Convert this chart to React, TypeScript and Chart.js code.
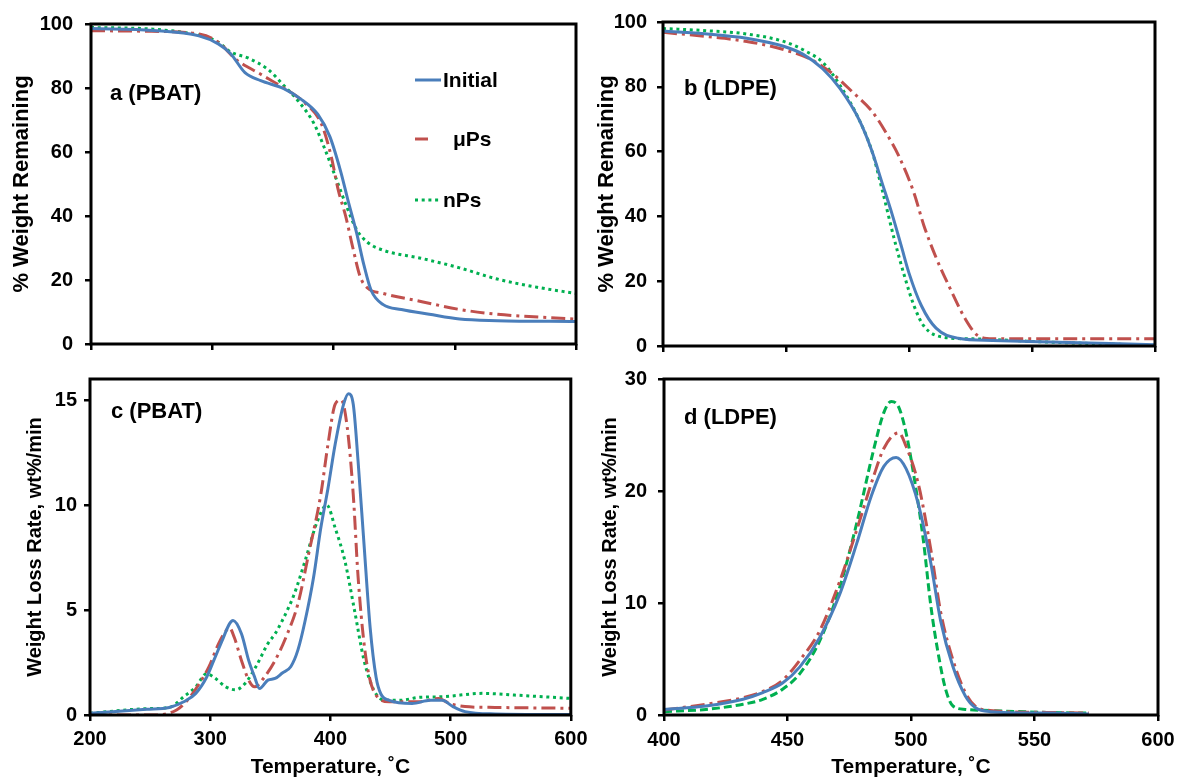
import { useEffect, useRef } from "react";
import { Chart, registerables } from "chart.js";

Chart.register(...registerables);

// ---------- Series names ----------
const seriesNames = ["Initial", "μPs", "nPs"];

// ---------- Panel a: PBAT, % weight remaining ----------
const aInitialT = [200, 251, 289, 305, 315, 327, 340, 359, 374, 387, 397, 406, 412, 419, 425, 431, 441, 456, 479, 504, 535, 600];
const aInitialW = [98.6, 98.0, 96.3, 93.8, 90.8, 84.8, 82.3, 79.8, 76.3, 71.8, 64.8, 53.8, 44.8, 34.8, 24.8, 16.8, 12.3, 10.8, 9.3, 7.8, 7.3, 7.0];
const aMicroT = [200, 250, 290, 305, 320, 340, 360, 375, 390, 398, 404, 410, 416, 422, 428, 441, 472, 504, 535, 600];
const aMicroW = [97.9, 97.7, 96.8, 94.3, 88.8, 84.3, 79.8, 75.8, 68.8, 58.8, 48.0, 40.0, 30.0, 21.0, 17.5, 15.8, 13.3, 10.8, 9.3, 7.8];
const aNanoT = [200, 250, 290, 305, 315, 330, 346, 359, 371, 384, 393, 403, 411, 419, 428, 441, 472, 504, 535, 567, 600];
const aNanoW = [98.9, 98.4, 96.4, 94.3, 91.3, 89.3, 85.8, 80.8, 75.9, 68.8, 60.8, 50.8, 42.8, 35.8, 31.8, 29.3, 26.8, 23.8, 20.3, 17.8, 15.8];

// ---------- Panel b: LDPE, % weight remaining ----------
const bInitialT = [400, 418, 434, 449, 457, 465, 472, 480, 485, 489, 493, 497, 500, 505, 511, 520, 534, 557, 600];
const bInitialW = [97.2, 96.3, 95.0, 92.5, 90.0, 85.5, 79.4, 69.4, 60.0, 50.5, 41.0, 30.5, 22.5, 12.5, 5.5, 2.4, 1.7, 1.2, 0.4];
const bMicroT = [400, 418, 434, 449, 460, 469, 477, 485, 491, 496, 502, 506, 511, 517, 523, 528, 534, 600];
const bMicroW = [96.8, 95.5, 94.0, 91.5, 88.5, 84.0, 78.4, 72.4, 65.4, 58.4, 47.3, 37.3, 27.3, 17.3, 8.2, 3.2, 2.2, 2.2];
const bNanoT = [400, 418, 434, 449, 458, 465, 472, 480, 485, 489, 494, 498, 502, 506, 514, 526, 557, 600];
const bNanoW = [98.0, 97.3, 96.3, 94.0, 91.0, 87.5, 80.4, 69.4, 60.0, 48.5, 33.0, 22.0, 12.5, 6.2, 2.7, 2.2, 1.2, 0.2];

// ---------- Panel c: PBAT, weight loss rate ----------
const cInitialT = [200, 247, 266, 278, 288, 297, 303, 310, 316, 319, 326, 332, 337, 341, 348, 354, 360, 367, 373, 379, 386, 392, 398, 404, 411, 415, 419, 423, 428, 433, 438, 442, 449, 468, 483, 493, 502, 512, 537, 600];
const cInitialR = [0.08, 0.27, 0.36, 0.63, 1.03, 1.8, 2.6, 3.55, 4.34, 4.5, 3.87, 2.6, 1.8, 1.26, 1.66, 1.74, 2.0, 2.3, 3.1, 4.5, 6.56, 8.9, 10.8, 12.9, 14.8, 15.3, 14.8, 12.1, 8.1, 4.2, 1.8, 1.0, 0.7, 0.55, 0.7, 0.7, 0.4, 0.16, 0.05, 0.02];
const cMicroT = [200, 255, 272, 281, 291, 299, 307, 313, 316, 320, 326, 332, 337, 345, 354, 363, 373, 382, 392, 398, 404, 409, 414, 419, 423, 428, 433, 439, 449, 474, 490, 499, 512, 537, 600];
const cMicroR = [0.0, 0.0, 0.24, 0.7, 1.5, 2.3, 3.4, 4.0, 4.15, 3.7, 2.6, 1.66, 1.34, 1.8, 2.6, 3.7, 5.3, 7.7, 10.5, 12.9, 14.8, 15.0, 13.7, 10.5, 6.6, 3.4, 1.66, 0.87, 0.63, 0.63, 0.79, 0.55, 0.4, 0.36, 0.32];
const cNanoT = [200, 247, 266, 278, 288, 297, 303, 313, 321, 329, 338, 348, 354, 360, 370, 379, 389, 397, 404, 412, 420, 428, 436, 445, 458, 474, 493, 527, 553, 600];
const cNanoR = [0.08, 0.3, 0.36, 0.87, 1.34, 1.97, 1.8, 1.34, 1.2, 1.5, 2.3, 3.4, 3.87, 4.5, 5.77, 7.35, 9.2, 10.0, 8.9, 7.35, 5.0, 2.6, 1.2, 0.7, 0.7, 0.84, 0.87, 1.03, 0.95, 0.79];

// ---------- Panel d: LDPE, weight loss rate ----------
const dInitialT = [400, 417, 432, 440, 448, 455, 463, 471, 478, 484, 489, 494, 498, 503, 508, 512, 517, 522, 526, 532, 555, 572];
const dInitialR = [0.5, 0.8, 1.4, 2.0, 2.85, 4.3, 6.9, 10.7, 15.3, 19.6, 22.2, 23.0, 22.0, 18.8, 13.6, 8.4, 4.3, 1.7, 0.67, 0.3, 0.17, 0.1];
const dMicroT = [400, 417, 432, 440, 448, 455, 463, 471, 478, 485, 489, 495, 498, 503, 508, 512, 517, 522, 526, 532, 555, 572];
const dMicroR = [0.45, 0.96, 1.54, 2.1, 3.1, 4.9, 7.5, 11.85, 16.5, 21.4, 23.8, 25.2, 24.0, 20.6, 14.8, 9.2, 4.9, 2.0, 0.8, 0.4, 0.23, 0.17];
const dNanoT = [400, 417, 432, 440, 448, 455, 463, 471, 478, 485, 489, 492, 495, 498, 501.5, 505, 508, 511, 514, 517, 522, 532, 555, 572];
const dNanoR = [0.3, 0.5, 0.96, 1.4, 2.3, 3.7, 6.6, 11.3, 17.1, 23.8, 27.0, 28.0, 27.5, 25.2, 20.9, 15.6, 9.8, 5.5, 2.3, 0.8, 0.5, 0.4, 0.23, 0.17];

// ---------- Tick labels ----------
const pbatXTicks = [200, 300, 400, 500, 600];
const ldpeXTicks = [400, 450, 500, 550, 600];
const weightYTicks = [0, 20, 40, 60, 80, 100];
const rateCYTicks = [0, 5, 10, 15];
const rateDYTicks = [0, 10, 20, 30];

// ---------- Styles ----------
const BLUE = "#4A7EBB";
const RED = "#C0504D";
const GREEN = "#00B050";
const FONT = '"Liberation Sans", Arial, Helvetica, sans-serif';

const pts = (t: number[], v: number[]) => t.map((x, i) => ({ x, y: v[i] }));

function line(label: string, data: any[], color: string, dash: number[], width = 3) {
  return {
    label,
    data,
    borderColor: color,
    backgroundColor: color,
    borderDash: dash,
    borderWidth: width,
    pointRadius: 0,
    fill: false,
    cubicInterpolationMode: "monotone",
  };
}

const DASHDOT = [14, 5, 3, 5];
const DOT = [3, 3.7];
const DASH = [8, 4];

type LegendEntry = { lineDx: number; lineLen: number; dy: number; textDx: number };

type Spec = {
  left: number; top: number; width: number; height: number;
  padTop: number; padRight: number;
  yWidth: number; xHeight: number;
  xMin: number; xMax: number; xTicks: number[]; showXLabels: boolean;
  xTitle?: string; xTitlePad?: number; xTickPad?: number;
  yMin: number; yMax: number; yTicks: number[];
  yTitle: string; yTitleSize: number; yTitlePad: number; yTickPad: number;
  label: string; labelDx: number; labelDy: number;
  datasets: any[];
  legend?: LegendEntry[];
};

const specs: Spec[] = [
  {
    left: 0, top: 0, width: 594, height: 368, padTop: 16, padRight: 18, yWidth: 91, xHeight: 19,
    xMin: 200, xMax: 600, xTicks: pbatXTicks, showXLabels: false,
    yMin: 0, yMax: 100, yTicks: weightYTicks,
    yTitle: "% Weight Remaining", yTitleSize: 22, yTitlePad: 11, yTickPad: 12,
    label: "a (PBAT)", labelDx: 19, labelDy: 70,
    datasets: [
      line(seriesNames[0], pts(aInitialT, aInitialW), BLUE, []),
      line(seriesNames[1], pts(aMicroT, aMicroW), RED, DASHDOT),
      line(seriesNames[2], pts(aNanoT, aNanoW), GREEN, DOT),
    ],
    legend: [
      { lineDx: 324, lineLen: 26, dy: 56, textDx: 352 },
      { lineDx: 324, lineLen: 13, dy: 115, textDx: 362 },
      { lineDx: 324, lineLen: 26, dy: 176, textDx: 352 },
    ],
  },
  {
    left: 594, top: 0, width: 595, height: 368, padTop: 20, padRight: 34, yWidth: 69, xHeight: 16,
    xMin: 400, xMax: 600, xTicks: ldpeXTicks, showXLabels: false,
    yMin: 0, yMax: 100, yTicks: weightYTicks,
    yTitle: "% Weight Remaining", yTitleSize: 22, yTitlePad: 1.5, yTickPad: 10,
    label: "b (LDPE)", labelDx: 21, labelDy: 67,
    datasets: [
      line(seriesNames[0], pts(bInitialT, bInitialW), BLUE, []),
      line(seriesNames[1], pts(bMicroT, bMicroW), RED, DASHDOT),
      line(seriesNames[2], pts(bNanoT, bNanoW), GREEN, DOT),
    ],
  },
  {
    left: 0, top: 360, width: 594, height: 424, padTop: 18, padRight: 20, yWidth: 90, xHeight: 69,
    xMin: 200, xMax: 600, xTicks: pbatXTicks, showXLabels: true,
    xTitle: "Temperature, ˚C", xTitlePad: 6.5, xTickPad: 6.5,
    yMin: 0, yMax: 16, yTicks: rateCYTicks,
    yTitle: "Weight Loss Rate, wt%/min", yTitleSize: 20, yTitlePad: 25, yTickPad: 7,
    label: "c (PBAT)", labelDx: 21, labelDy: 33,
    datasets: [
      line(seriesNames[0], pts(cInitialT, cInitialR), BLUE, []),
      line(seriesNames[1], pts(cMicroT, cMicroR), RED, DASHDOT),
      line(seriesNames[2], pts(cNanoT, cNanoR), GREEN, DOT),
    ],
  },
  {
    left: 594, top: 356, width: 595, height: 428, padTop: 16, padRight: 31, yWidth: 70, xHeight: 69,
    xMin: 400, xMax: 600, xTicks: ldpeXTicks, showXLabels: true,
    xTitle: "Temperature, ˚C", xTitlePad: 6, xTickPad: 7.5,
    yMin: 0, yMax: 30, yTicks: rateDYTicks,
    yTitle: "Weight Loss Rate, wt%/min", yTitleSize: 20, yTitlePad: 6, yTickPad: 11,
    label: "d (LDPE)", labelDx: 20, labelDy: 39,
    datasets: [
      line(seriesNames[0], pts(dInitialT, dInitialR), BLUE, []),
      line(seriesNames[1], pts(dMicroT, dMicroR), RED, DASHDOT),
      line(seriesNames[2], pts(dNanoT, dNanoR), GREEN, DASH),
    ],
  },
];

function buildConfig(spec: Spec): any {
  const decor = {
    id: "decor_" + spec.label,
    afterDraw(chart: any) {
      const { ctx, chartArea } = chart;
      const { left, top, right, bottom } = chartArea;
      ctx.save();
      // frame
      ctx.strokeStyle = "#000";
      ctx.lineWidth = 3;
      ctx.setLineDash([]);
      ctx.strokeRect(left, top, right - left, bottom - top);
      // panel label
      ctx.fillStyle = "#000";
      ctx.font = `bold 22px ${FONT}`;
      ctx.textAlign = "left";
      ctx.textBaseline = "middle";
      ctx.fillText(spec.label, left + spec.labelDx, top + spec.labelDy);
      // legend
      if (spec.legend) {
        spec.legend.forEach((e, i) => {
          const ds = chart.data.datasets[i];
          const y = top + e.dy;
          ctx.beginPath();
          ctx.strokeStyle = ds.borderColor;
          ctx.lineWidth = ds.borderWidth;
          ctx.setLineDash(ds.borderDash || []);
          ctx.lineCap = "butt";
          ctx.moveTo(left + e.lineDx, y);
          ctx.lineTo(left + e.lineDx + e.lineLen, y);
          ctx.stroke();
          ctx.setLineDash([]);
          ctx.fillStyle = "#000";
          ctx.font = `bold 21px ${FONT}`;
          ctx.textAlign = "left";
          ctx.textBaseline = "middle";
          ctx.fillText(ds.label, left + e.textDx, y + 1);
        });
      }
      ctx.restore();
    },
  };

  return {
    type: "line",
    data: { datasets: spec.datasets },
    plugins: [decor],
    options: {
      responsive: false,
      maintainAspectRatio: false,
      animation: false,
      devicePixelRatio: 1,
      layout: { padding: { top: spec.padTop, right: spec.padRight, left: 0, bottom: 0 } },
      plugins: {
        legend: { display: false },
        tooltip: { enabled: false },
        title: { display: false },
      },
      scales: {
        x: {
          type: "linear",
          min: spec.xMin,
          max: spec.xMax,
          afterBuildTicks: (s: any) => {
            s.ticks = spec.xTicks.map((v) => ({ value: v }));
          },
          afterFit: (s: any) => {
            s.height = spec.xHeight;
          },
          grid: { display: true, drawOnChartArea: false, drawTicks: true, tickLength: 6, color: "#000", lineWidth: 2.5 },
          border: { display: false },
          ticks: {
            display: spec.showXLabels,
            color: "#000",
            padding: spec.xTickPad ?? 6,
            maxRotation: 0,
            autoSkip: false,
            font: { family: FONT, size: 20, weight: "bold" },
          },
          title: spec.xTitle
            ? {
                display: true,
                text: spec.xTitle,
                color: "#000",
                font: { family: FONT, size: 21, weight: "bold", lineHeight: 1 },
                padding: { top: 0, bottom: spec.xTitlePad ?? 6 },
              }
            : { display: false },
        },
        y: {
          type: "linear",
          min: spec.yMin,
          max: spec.yMax,
          afterBuildTicks: (s: any) => {
            s.ticks = spec.yTicks.map((v) => ({ value: v }));
          },
          afterFit: (s: any) => {
            s.width = spec.yWidth;
          },
          grid: { display: true, drawOnChartArea: false, drawTicks: true, tickLength: 6, color: "#000", lineWidth: 2.5 },
          border: { display: false },
          ticks: {
            color: "#000",
            padding: spec.yTickPad,
            font: { family: FONT, size: 20, weight: "bold" },
          },
          title: {
            display: true,
            text: spec.yTitle,
            color: "#000",
            font: { family: FONT, size: spec.yTitleSize, weight: "bold", lineHeight: 1 },
            padding: { top: spec.yTitlePad, bottom: 0 },
          },
        },
      },
    },
  };
}

function Panel({ spec }: { spec: Spec }) {
  const ref = useRef<HTMLCanvasElement>(null);
  useEffect(() => {
    if (!ref.current) return;
    const chart = new Chart(ref.current, buildConfig(spec));
    return () => chart.destroy();
  }, [spec]);
  return (
    <canvas
      ref={ref}
      width={spec.width}
      height={spec.height}
      style={{ position: "absolute", left: spec.left, top: spec.top, width: spec.width, height: spec.height }}
    />
  );
}

export default function App() {
  return (
    <div
      style={{
        position: "absolute",
        left: 0,
        top: 0,
        width: 1189,
        height: 784,
        background: "#fff",
        overflow: "hidden",
      }}
    >
      {specs.map((s) => (
        <Panel key={s.label} spec={s} />
      ))}
    </div>
  );
}
